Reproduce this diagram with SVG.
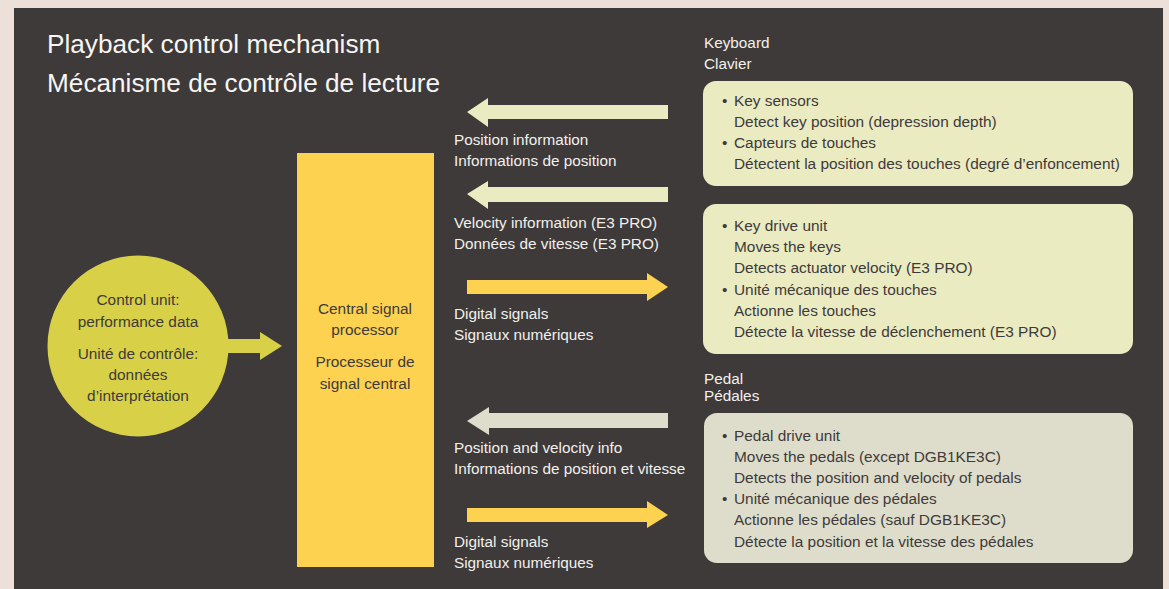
<svg xmlns="http://www.w3.org/2000/svg" width="1169" height="589" viewBox="0 0 1169 589">
<style>
.t{font-family:"Liberation Sans",Arial,sans-serif;font-size:15.3px;fill:#F2F0EC}
.b{font-family:"Liberation Sans",Arial,sans-serif;font-size:15.4px;fill:#3E3A3A}
.title{font-family:"Liberation Sans",Arial,sans-serif;font-size:26.2px;fill:#F7F5F2}
.kb{fill:#EBEBC2}
.pd{fill:#DEDDCB}
.yl{fill:#FDD250}
</style>
<rect x="0" y="0" width="1169" height="589" fill="#ECE0D8"/>
<rect x="14" y="8" width="1149" height="581" fill="#3E3A3A"/>
<text class="title" x="47" y="53">Playback control mechanism</text>
<text class="title" x="47" y="92">Mécanisme de contrôle de lecture</text>

<g id="control-unit">
<circle cx="138" cy="346" r="90.5" fill="#D8D147"/>
<text class="b" text-anchor="middle" x="138" y="305">Control unit:</text>
<text class="b" text-anchor="middle" x="138" y="327">performance data</text>
<text class="b" text-anchor="middle" x="138" y="359">Unité de contrôle:</text>
<text class="b" text-anchor="middle" x="138" y="380">données</text>
<text class="b" text-anchor="middle" x="138" y="401">d’interprétation</text>
</g>

<g id="central-processor">
<rect class="yl" x="297" y="153" width="137" height="414"/>
<text class="b" text-anchor="middle" x="365" y="314">Central signal</text>
<text class="b" text-anchor="middle" x="365" y="335">processor</text>
<text class="b" text-anchor="middle" x="365" y="367">Processeur de</text>
<text class="b" text-anchor="middle" x="365" y="389">signal central</text>
</g>

<g id="keyboard-label">
<text class="t" x="704" y="48">Keyboard</text>
<text class="t" x="704" y="69">Clavier</text>
</g>

<g id="key-sensors">
<rect class="kb" x="703" y="81" width="430" height="105" rx="13"/>
<text class="b" x="722" y="106">•</text>
<text class="b" x="734" y="106">Key sensors</text>
<text class="b" x="734" y="127">Detect key position (depression depth)</text>
<text class="b" x="722" y="148">•</text>
<text class="b" x="734" y="148">Capteurs de touches</text>
<text class="b" x="734" y="169">Détectent la position des touches (degré d’enfoncement)</text>
</g>

<g id="key-drive">
<rect class="kb" x="703" y="204" width="430" height="150" rx="13"/>
<text class="b" x="722" y="231">•</text>
<text class="b" x="734" y="231">Key drive unit</text>
<text class="b" x="734" y="252">Moves the keys</text>
<text class="b" x="734" y="273">Detects actuator velocity (E3 PRO)</text>
<text class="b" x="722" y="295">•</text>
<text class="b" x="734" y="295">Unité mécanique des touches</text>
<text class="b" x="734" y="316">Actionne les touches</text>
<text class="b" x="734" y="337">Détecte la vitesse de déclenchement (E3 PRO)</text>
</g>

<g id="pedal-label">
<text class="t" x="704" y="384">Pedal</text>
<text class="t" x="704" y="401">Pédales</text>
</g>

<g id="pedal-drive">
<rect class="pd" x="704" y="413" width="429" height="150" rx="13"/>
<text class="b" x="722" y="441">•</text>
<text class="b" x="734" y="441">Pedal drive unit</text>
<text class="b" x="734" y="462">Moves the pedals (except DGB1KE3C)</text>
<text class="b" x="734" y="483">Detects the position and velocity of pedals</text>
<text class="b" x="722" y="504">•</text>
<text class="b" x="734" y="504">Unité mécanique des pédales</text>
<text class="b" x="734" y="525">Actionne les pédales (sauf DGB1KE3C)</text>
<text class="b" x="734" y="547">Détecte la position et la vitesse des pédales</text>
</g>

<g id="connectors">
<polygon fill="#D8D147" points="226,339 260,339 260,332 282,346 260,360 260,353 226,353"/>
<polygon class="kb" points="668,105 488,105 488,98 467,112 488,127 488,119 668,119"/>
<polygon class="kb" points="668,187 488,187 488,181 467,194 488,209 488,202 668,202"/>
<polygon class="yl" points="467,280 647,280 647,273 668,287 647,301 647,294 467,294"/>
<polygon class="pd" points="668,413 489,413 489,407 467,421 489,435 489,428 668,428"/>
<polygon class="yl" points="467,508 647,508 647,501 668,515 647,528 647,522 467,522"/>
<text class="t" x="454" y="145">Position information</text>
<text class="t" x="454" y="166">Informations de position</text>
<text class="t" x="454" y="228">Velocity information (E3 PRO)</text>
<text class="t" x="454" y="249">Données de vitesse (E3 PRO)</text>
<text class="t" x="454" y="319">Digital signals</text>
<text class="t" x="454" y="340">Signaux numériques</text>
<text class="t" x="454" y="453">Position and velocity info</text>
<text class="t" x="454" y="474">Informations de position et vitesse</text>
<text class="t" x="454" y="547">Digital signals</text>
<text class="t" x="454" y="568">Signaux numériques</text>
</g>
</svg>
